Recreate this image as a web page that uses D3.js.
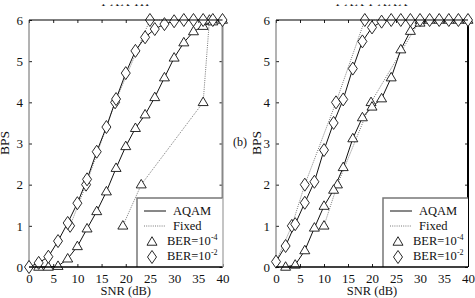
<!DOCTYPE html>
<html><head><meta charset="utf-8">
<script src="https://cdn.jsdelivr.net/npm/d3@7"></script>
<style>body{margin:0;background:#fff}svg{display:block}svg text{font-family:"Liberation Serif","Times New Roman",Times,serif !important;fill:#111}</style>
</head><body>
<svg id="c" width="475" height="298"></svg>
<script>
// ---- data ----
const snrTicks = [0,5,10,15,20,25,30,35,40];
const bpsTicks = [0,1,2,3,4,5,6];
const legendLabels = ["AQAM","Fixed","BER=10","BER=10"];
const legendExp = ["","","-4","-2"];

// Panel (a)
const aAqam4 = [[2,0],[4,0],[6,0.02],[8,0.2],[10,0.5],[12,0.93],[14,1.35],[16,1.83],[18,2.4],[20,2.93],[22,3.37],[24,3.7],[26,4.12],[28,4.6],[30,5.08],[32,5.45],[34,5.72],[36,5.85],[38,5.96],[40,6]];
const aAqam2 = [[0,0],[2,0.1],[4,0.25],[6,0.63],[8,1.07],[10,1.55],[12,2.13],[14,2.8],[16,3.4],[18,4.08],[20,4.71],[22,5.25],[24,5.58],[26,5.78],[28,5.9],[30,5.97],[32,6],[34,6],[36,6],[38,6],[40,6]];
const aFixed4 = [[19.4,1],[23.2,2],[36,4],[37.3,6]];
const aFixed2 = [[8.5,1],[11.8,2],[17.8,4],[25,6]];
const aFixedTail4 = [[37.3,6],[40,6]];
const aFixedTail2 = [[25,6],[40,6]];

// Panel (b)
const bAqam4 = [[2,0],[4,0.05],[6,0.4],[8,0.95],[10,1.48],[12,1.87],[14,2.42],[16,3.12],[18,3.63],[20,3.89],[22,4.09],[24,4.6],[26,5.28],[28,5.73],[30,5.93],[32,6],[34,6],[36,6],[38,6],[40,6]];
const bAqam2 = [[0,0.13],[2,0.51],[4,1.04],[6,1.56],[8,2.07],[10,2.84],[12,3.5],[14,4.07],[16,4.82],[18,5.48],[20,5.82],[22,5.96],[24,6],[26,6],[28,6],[30,6],[32,6],[34,6],[36,6],[38,6],[40,6]];
const bFixed4 = [[10,1],[12.8,2],[19.8,4],[30,6]];
const bFixed2 = [[3.3,1],[6,2],[12.5,4],[18.5,6]];
const bFixedHead2 = [[0,0.13],[3.3,1]];
const bFixedTail4 = [[30,6],[40,6]];
const bFixedTail2 = [[18.5,6],[40,6]];

const FONT = "Liberation Serif, Times New Roman, serif";
const svg = d3.select("#c");

function tri(cx, cy){ const w=5, h=8.5; return `M${cx},${cy-h*0.62}L${cx+w},${cy+h*0.38}L${cx-w},${cy+h*0.38}Z`; }
function dia(cx, cy){ const w=4.5, h=6.5; return `M${cx},${cy-h}L${cx+w},${cy}L${cx},${cy+h}L${cx-w},${cy}Z`; }

function panel(cfg){
  const x = d3.scaleLinear().domain([0,40]).range([cfg.x0, cfg.x1]);
  const y = d3.scaleLinear().domain([0,6]).range([267, 20]);
  const g = svg.append("g").attr("font-family",FONT);

  // clipped title remnant
  const cid = "clip"+cfg.id;
  svg.append("clipPath").attr("id",cid).append("rect").attr("x",0).attr("y",4.3).attr("width",475).attr("height",2.2);
  g.append("text").attr("clip-path",`url(#${cid})`).attr("x",(cfg.x0+cfg.x1)/2).attr("y",6.3)
    .attr("text-anchor","middle").style("font-size","13px").style("letter-spacing","1px").text(cfg.title);

  // axes
  const ax = g.append("g").attr("transform","translate(0,267)")
    .call(d3.axisBottom(x).tickValues(snrTicks).tickSize(-3).tickPadding(6.5).tickFormat(d3.format("d")));
  const axT = g.append("g").attr("transform","translate(0,20)")
    .call(d3.axisTop(x).tickValues(snrTicks).tickSize(-3).tickFormat(""));
  const ay = g.append("g").attr("transform",`translate(${cfg.x0},0)`)
    .call(d3.axisLeft(y).tickValues(bpsTicks).tickSize(-3).tickPadding(6).tickFormat(d3.format("d")));
  const ayR = g.append("g").attr("transform",`translate(${cfg.x1},0)`)
    .call(d3.axisRight(y).tickValues(bpsTicks).tickSize(-3).tickFormat(""));
  [ax,axT,ay,ayR].forEach(a=>{a.attr("font-family",FONT).attr("font-size",13); a.select(".domain").remove(); a.selectAll("line").attr("stroke","#222");});
  [ax,ay].forEach(a=>a.selectAll("text").attr("fill","#111"));

  // frame
  g.append("line").attr("x1",cfg.x0).attr("x2",cfg.x0).attr("y1",20).attr("y2",267).attr("stroke","#666").attr("stroke-width",1);
  g.append("line").attr("x1",cfg.x1).attr("x2",cfg.x1).attr("y1",20).attr("y2",267).attr("stroke",cfg.rightColor).attr("stroke-width",2);

  const line = d3.line().x(d=>x(d[0])).y(d=>y(d[1]));
  cfg.fixedLines.forEach(s=>g.append("path").attr("d",line(s)).attr("fill","none").attr("stroke","#777").attr("stroke-width",1).attr("stroke-dasharray","1,1.2"));
  [cfg.aq4, cfg.aq2].forEach(s=>g.append("path").attr("d",line(s)).attr("fill","none").attr("stroke","#111").attr("stroke-width",1));

  // legend box
  const lx = cfg.legX;
  g.append("rect").attr("x",lx).attr("y",198).attr("width",cfg.x1-lx).attr("height",69).attr("fill","#fff");
  g.append("path").attr("d",`M${lx},267V198H${cfg.x1}`).attr("fill","none").attr("stroke","#777").attr("stroke-width",1.5);

  // markers
  const mk = (s, fn) => g.append("g").selectAll("path").data(s).join("path")
    .attr("d",d=>fn(x(d[0]),y(d[1]))).attr("fill","#fff").attr("stroke","#111").attr("stroke-width",0.9);
  mk(cfg.fx4, tri); mk(cfg.fx2, dia); mk(cfg.aq4, tri); mk(cfg.aq2, dia);

  g.append("line").attr("x1",cfg.x0).attr("x2",cfg.x1).attr("y1",267).attr("y2",267).attr("stroke","#000").attr("stroke-width",1.5);
  g.append("line").attr("x1",cfg.x0).attr("x2",cfg.x1).attr("y1",20).attr("y2",20).attr("stroke","#000").attr("stroke-width",1.2);

  // legend contents
  const sx = lx+7, ex = lx+29;
  g.append("line").attr("x1",sx).attr("x2",ex).attr("y1",211).attr("y2",211).attr("stroke","#111").attr("stroke-width",1);
  g.append("line").attr("x1",sx).attr("x2",ex).attr("y1",226).attr("y2",226).attr("stroke","#777").attr("stroke-width",1).attr("stroke-dasharray","1,1.2");
  g.append("path").attr("d",tri(lx+15,242)).attr("fill","#fff").attr("stroke","#111").attr("stroke-width",0.9);
  g.append("path").attr("d",dia(lx+15,257)).attr("fill","#fff").attr("stroke","#111").attr("stroke-width",0.9);
  const ty = [215,230,245,260], tx=[lx+36,lx+36,lx+30,lx+30];
  legendLabels.forEach((t,i)=>{
    const tt = g.append("text").attr("x",tx[i]).attr("y",ty[i]).style("font-size","12.5px").text(t);
    if(legendExp[i]) tt.append("tspan").attr("dy",-5).style("font-size","8px").text(legendExp[i]);
  });

  // axis labels
  g.append("text").attr("x",(cfg.x0+cfg.x1)/2).attr("y",295).attr("text-anchor","middle").style("font-size","12.5px").text("SNR (dB)");
  g.append("text").attr("transform",`translate(${cfg.ylabX},143) rotate(-90)`).attr("text-anchor","middle").style("font-size","13.5px").text("BPS");
}

panel({id:"a", x0:29, x1:222.5, rightColor:"#888", legX:137, ylabX:9, title:"I  AA  III",
  aq4:aAqam4, aq2:aAqam2, fx4:aFixed4, fx2:aFixed2,
  fixedLines:[aFixed4, aFixed2, aFixedTail4, aFixedTail2]});
panel({id:"b", x0:276, x1:468, rightColor:"#000", legX:383, ylabX:261, title:"I  AA  I AAA",
  aq4:bAqam4, aq2:bAqam2, fx4:bFixed4, fx2:bFixed2,
  fixedLines:[bFixed4, bFixed2, bFixedHead2, bFixedTail4, bFixedTail2]});

svg.append("text").attr("x",233).attr("y",146).attr("font-family",FONT).style("font-size","12px").text("(b)");
</script>
</body></html>
